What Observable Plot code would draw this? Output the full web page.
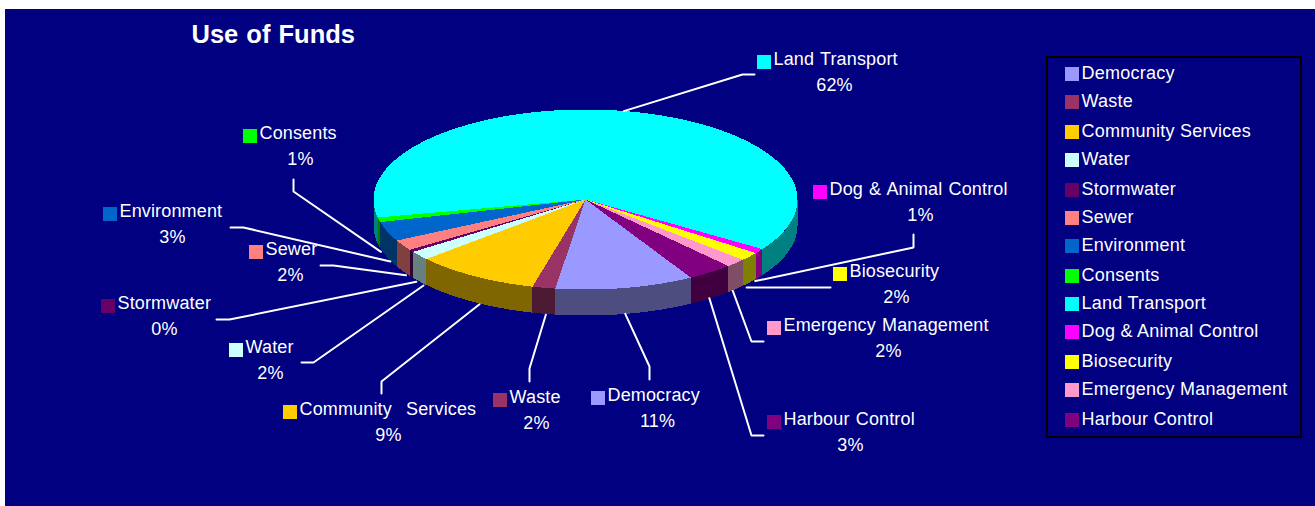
<!DOCTYPE html>
<html>
<head>
<meta charset="utf-8">
<title>Use of Funds</title>
<script src="https://cdn.jsdelivr.net/npm/d3@7"></script>
<script src="https://cdn.jsdelivr.net/npm/@observablehq/plot@0.6"></script>
<style>
  html, body { margin: 0; padding: 0; background: #fff; }
  svg { display: block; }
  .title text { word-spacing: 1px; }
  .callout text { letter-spacing: 0.15px; word-spacing: 1px; }
  .callout-wide text { letter-spacing: 0.15px; word-spacing: 9px; }
  .legend text { letter-spacing: 0.25px; }
</style>
</head>
<body>
<div id="chart"></div>
<script>
// Budget shares, in the order the pie runs clockwise.
const categories = ["Democracy", "Waste", "Community Services", "Water", "Stormwater", "Sewer",
  "Environment", "Consents", "Land Transport", "Dog & Animal Control", "Biosecurity",
  "Emergency Management", "Harbour Control"];
const shares = [10.55, 1.75, 9.49, 1.6, 0.45, 1.9, 3.49, 0.85, 62.49, 0.85, 1.54, 1.55, 3.49];
const sliceColors = ["#9999ff", "#993366", "#ffcc00", "#ccffff", "#660066", "#ff8080",
  "#0066cc", "#00ff00", "#00ffff", "#ff00ff", "#ffff00", "#ff99cc", "#800080"];

// Callout placement: swatch corner, percent centre, leader elbow and end,
// plus a small shift of the leader's start away from the rim.
const callouts = {
  "Democracy": {box: [591, 391], pct: [657, 421], elbow: [649, 366], end: [649, 379], shift: [0, 0]},
  "Waste": {box: [493, 393], pct: [536, 423], elbow: [529, 368], end: [529, 381], shift: [2, 1]},
  "Community Services": {box: [283, 405], pct: [388, 435], elbow: [381, 381], end: [381, 393], shift: [5, 2]},
  "Water": {box: [229, 343], pct: [270, 373], elbow: [313, 362], end: [301, 362], shift: [4, 4]},
  "Stormwater": {box: [101, 299], pct: [164, 329], elbow: [229, 319], end: [216, 319], shift: [5, 5]},
  "Sewer": {box: [249, 245], pct: [290, 275], elbow: [333, 265], end: [320, 265], shift: [3, 4]},
  "Environment": {box: [103, 207], pct: [172, 237], elbow: [243, 227], end: [230, 227], shift: [3, 4]},
  "Consents": {box: [243, 129], pct: [300, 159], elbow: [293, 191], end: [293, 179], shift: [2, 6]},
  "Land Transport": {box: [757, 55], pct: [834, 85], elbow: [742, 74], end: [754, 74], shift: [-2, 0]},
  "Dog & Animal Control": {box: [813, 185], pct: [920, 215], elbow: [913, 247], end: [913, 234], shift: [-4, 4]},
  "Biosecurity": {box: [833, 267], pct: [896, 297], elbow: [818, 287], end: [830, 287], shift: [-3, 5]},
  "Emergency Management": {box: [767, 321], pct: [888, 351], elbow: [751, 341], end: [763, 341], shift: [-3, 2]},
  "Harbour Control": {box: [767, 415], pct: [850, 445], elbow: [751, 435], end: [763, 435], shift: [-1, 0]}
};
const legendTops = [67, 95, 125, 153, 183, 211, 239, 269, 297, 325, 355, 383, 413];

// Tilted disc: centre, radii, rim depth and the angle where the first slice begins.
const cx = 585, cy = 199, rx = 212, ry = 90, depth = 26, startDeg = 150.2;
const font = "Liberation Sans, Arial, sans-serif";
const swatch = 14;

const total = d3.sum(shares);
const pct = d3.format(".0%");
const rad = (d) => (d * Math.PI) / 180;
const px = (deg) => cx + rx * Math.sin(rad(deg));
const py = (deg) => cy - ry * Math.cos(rad(deg));
const halfTone = (c) => {
  const {r, g, b} = d3.rgb(c);
  return d3.rgb(r / 2, g / 2, b / 2).formatHex();
};

// Turn the shares into angular spans.
let running = startDeg;
const slices = categories.map((name, i) => {
  const a0 = running;
  running += (shares[i] / total) * 360;
  return {name, share: shares[i], color: sliceColors[i], a0, a1: running, mid: (a0 + running) / 2};
});

const arc = (a0, a1) => {
  const n = Math.max(2, Math.ceil(a1 - a0));
  return d3.range(n + 1).map((k) => a0 + ((a1 - a0) * k) / n);
};

// Top faces run from the centre round the rim.
const topFaces = slices.flatMap((s) => [
  {key: s.name, color: s.color, x: cx, y: cy},
  ...arc(s.a0, s.a1).map((t) => ({key: s.name, color: s.color, x: px(t), y: py(t)}))
]);

// The rim only shows along the near half of the disc.
const rimFaces = slices.flatMap((s) =>
  [[90, 270], [450, 630]].flatMap(([lo, hi], part) => {
    const a0 = Math.max(s.a0, lo), a1 = Math.min(s.a1, hi);
    if (a1 <= a0) return [];
    const key = `${s.name}-${part}`, color = halfTone(s.color), ts = arc(a0, a1);
    return [
      ...ts.map((t) => ({key, color, x: px(t), y: py(t)})),
      ...ts.slice().reverse().map((t) => ({key, color, x: px(t), y: py(t) + depth}))
    ];
  })
);

// Leaders leave the outer edge at each slice's middle angle.
const leaders = slices.flatMap((s) => {
  const c = callouts[s.name];
  const m = ((s.mid % 360) + 360) % 360;
  const drop = m > 90 && m < 270 ? depth : 0;
  return [
    {key: s.name, x: px(s.mid) + c.shift[0], y: py(s.mid) + drop + c.shift[1]},
    {key: s.name, x: c.elbow[0], y: c.elbow[1]},
    {key: s.name, x: c.end[0], y: c.end[1]}
  ];
});

const calloutRows = slices.map((s) => {
  const c = callouts[s.name];
  return {
    name: s.name, color: s.color, label: pct(s.share / total),
    x: c.box[0], y: c.box[1], px: c.pct[0], py: c.pct[1]
  };
});
const isWide = (d) => d.name === "Community Services";

const legendRows = slices.map((s, i) => ({name: s.name, color: s.color, top: legendTops[i]}));

const textStyle = {fontFamily: font, fontSize: 18, fill: "white", lineAnchor: "middle", stroke: "none"};
const nameStyle = {x: (d) => d.x + swatch + 2, y: (d) => d.y + 4, text: "name", textAnchor: "start", ...textStyle};

const chart = Plot.plot({
  width: 1315,
  height: 506,
  margin: 0,
  style: {background: "white", overflow: "visible"},
  x: {domain: [0, 1315], range: [0, 1315], axis: null},
  y: {domain: [0, 506], range: [0, 506], axis: null},
  color: {type: "identity"},
  marks: [
    // Panel
    Plot.rect([{x1: 5, x2: 1315, y1: 9, y2: 506}], {x1: "x1", x2: "x2", y1: "y1", y2: "y2", fill: "#000080"}),
    Plot.text(["Use of Funds"], {
      x: 191, y: 34, text: (d) => d, textAnchor: "start", lineAnchor: "middle",
      fontFamily: font, fontSize: 25.5, fontWeight: "bold", fill: "white", className: "title"
    }),

    // Disc
    Plot.line(rimFaces, {x: "x", y: "y", z: "key", fill: "color", stroke: "none", shapeRendering: "crispEdges"}),
    Plot.line(topFaces, {x: "x", y: "y", z: "key", fill: "color", stroke: "none", shapeRendering: "crispEdges"}),

    // Callouts
    Plot.line(leaders, {x: "x", y: "y", z: "key", stroke: "white", strokeWidth: 2, strokeLinejoin: "miter"}),
    Plot.rect(calloutRows, {
      x1: "x", x2: (d) => d.x + swatch, y1: "y", y2: (d) => d.y + swatch,
      fill: "color", shapeRendering: "crispEdges"
    }),
    Plot.text(calloutRows.filter((d) => !isWide(d)), {...nameStyle, className: "callout"}),
    Plot.text(calloutRows.filter(isWide), {...nameStyle, className: "callout-wide"}),
    Plot.text(calloutRows, {x: "px", y: "py", text: "label", textAnchor: "middle", className: "callout", ...textStyle}),

    // Legend
    Plot.rect([{x1: 1047, x2: 1301, y1: 57, y2: 437}], {
      x1: "x1", x2: "x2", y1: "y1", y2: "y2", fill: "none", stroke: "black", strokeWidth: 2
    }),
    Plot.rect(legendRows, {
      x1: 1065, x2: 1065 + swatch, y1: "top", y2: (d) => d.top + swatch,
      fill: "color", shapeRendering: "crispEdges"
    }),
    Plot.text(legendRows, {x: 1081, y: (d) => d.top + 6, text: "name", textAnchor: "start", className: "legend", ...textStyle})
  ]
});

document.getElementById("chart").append(chart);
</script>
</body>
</html>
